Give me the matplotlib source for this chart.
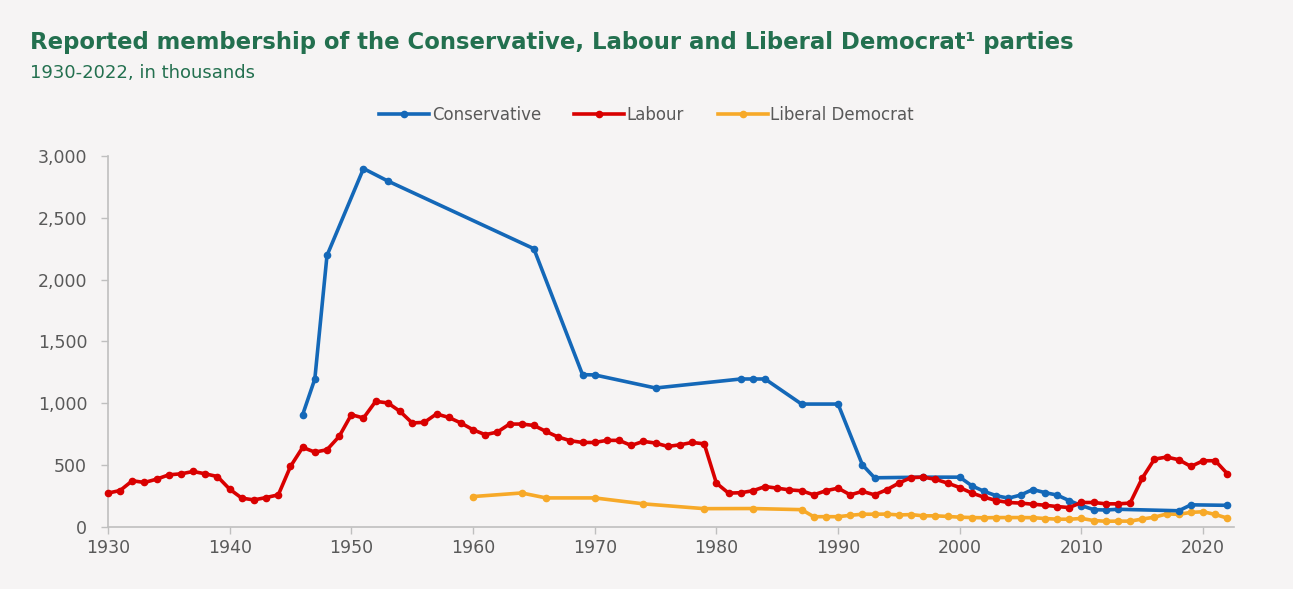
import matplotlib.pyplot as plt
from matplotlib.ticker import FuncFormatter

# 数据 (单位: 千人)
lab_years = list(range(1930, 2023))
lab_members = [271, 292, 371, 357, 384, 419, 427, 446, 427, 405,
               303, 230, 216, 235, 257, 487, 641, 603, 622, 730,
               906, 879, 1014, 1001, 933, 839, 844, 912, 884, 839,
               784, 744, 765, 830, 830, 819, 770, 725, 695, 681,
               681, 698, 698, 657, 690, 676, 649, 662, 681, 670,
               352, 271, 274, 290, 324, 311, 297, 290, 257, 290,
               311, 257, 285, 257, 298, 352, 397, 400, 383, 352,
               316, 271, 238, 211, 195, 190, 181, 173, 162, 154,
               195, 195, 184, 184, 190, 392, 546, 563, 541, 487,
               533, 533, 427]

con_years = [1946, 1947, 1948, 1951, 1953, 1965, 1969, 1970, 1975, 1982,
             1983, 1984, 1987, 1990, 1992, 1993, 1997, 2000, 2001, 2002,
             2003, 2004, 2005, 2006, 2007, 2008, 2009, 2010, 2011, 2012,
             2013, 2018, 2019, 2022]
con_members = [906, 1195, 2195, 2899, 2798, 2250, 1230, 1228, 1122, 1195,
               1195, 1195, 992, 992, 500, 395, 400, 400, 330, 285,
               250, 230, 255, 300, 275, 255, 210, 170, 137, 134,
               140, 128, 176, 172]

lib_years = [1960, 1964, 1966, 1970, 1974, 1979, 1983, 1987] + list(range(1988, 2023))
lib_members = [243, 272, 232, 232, 184, 145, 146, 137,
               80, 80, 80, 91, 100, 100, 101, 94, 97, 87,
               87, 82, 76, 73, 71, 73, 73, 73, 72, 65,
               60, 59, 66, 49, 43, 44, 44, 61, 76, 102,
               99, 115, 120, 98, 68]

x_ticks = [1930, 1940, 1950, 1960, 1970, 1980, 1990, 2000, 2010, 2020]
y_ticks = [0, 500, 1000, 1500, 2000, 2500, 3000]

bg = '#F6F4F4'
green = '#23704F'
grey_txt = '#595959'
grey_axis = '#BFBFBF'

plt.rcParams['font.family'] = ['DejaVu Sans']

fig = plt.figure(figsize=(12.93, 5.89), dpi=100, facecolor=bg)
ax = fig.add_axes([0.0835, 0.106, 0.8705, 0.629])
ax.set_facecolor(bg)

# 画线
ax.plot(con_years, con_members, color='#1468B8', lw=2.6, marker='o', ms=4.5,
        label='Conservative', clip_on=False, zorder=3)
ax.plot(lab_years, lab_members, color='#D90000', lw=2.6, marker='o', ms=4.5,
        label='Labour', clip_on=False, zorder=4)
ax.plot(lib_years, lib_members, color='#F7A928', lw=2.6, marker='o', ms=4.5,
        label='Liberal Democrat', clip_on=False, zorder=2)

ax.set_xlim(1930, 2022.5)
ax.set_ylim(0, 3000)
ax.set_xticks(x_ticks)
ax.set_yticks(y_ticks)
ax.yaxis.set_major_formatter(FuncFormatter(lambda v, p: '{:,.0f}'.format(v)))

for s in ['top', 'right']:
    ax.spines[s].set_visible(False)
for s in ['left', 'bottom']:
    ax.spines[s].set_color(grey_axis)
    ax.spines[s].set_linewidth(1.2)
ax.tick_params(axis='both', colors=grey_axis, labelcolor=grey_txt,
               labelsize=12.5, length=5, width=1)
ax.tick_params(axis='y', pad=10)
ax.tick_params(axis='x', pad=4)

# 标题
fig.text(0.023, 0.928, 'Reported membership of the Conservative, Labour and Liberal Democrat\u00b9 parties',
         color=green, fontsize=16.4, fontweight='bold', va='center')
fig.text(0.023, 0.876, '1930-2022, in thousands', color=green, fontsize=13,
         va='center')

leg = fig.legend(loc='center', bbox_to_anchor=(0.5, 0.805), ncol=3,
                 frameon=False, fontsize=12, handlelength=3.0,
                 handletextpad=0.15, columnspacing=2.0)
for t in leg.get_texts():
    t.set_color(grey_txt)

plt.savefig('out.png', dpi=100, facecolor=bg)
